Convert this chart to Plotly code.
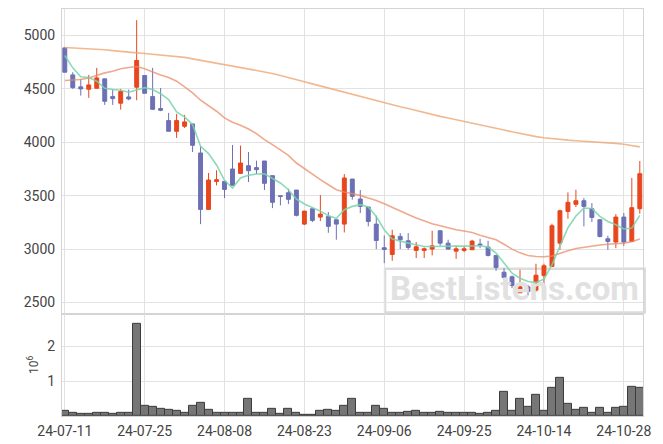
import plotly.graph_objects as go

dates = ["24-07-11","24-07-12","24-07-15","24-07-16","24-07-17","24-07-18","24-07-19","24-07-22","24-07-23","24-07-24",
         "24-07-25","24-07-26","24-07-29","24-07-30","24-07-31","24-08-01","24-08-02","24-08-05","24-08-06","24-08-07",
         "24-08-08","24-08-09","24-08-12","24-08-13","24-08-14","24-08-16","24-08-19","24-08-20","24-08-21","24-08-22",
         "24-08-23","24-08-26","24-08-27","24-08-28","24-08-29","24-08-30","24-09-02","24-09-03","24-09-04","24-09-05",
         "24-09-06","24-09-09","24-09-10","24-09-11","24-09-12","24-09-13","24-09-19","24-09-20","24-09-23","24-09-24",
         "24-09-25","24-09-26","24-09-27","24-09-30","24-10-02","24-10-04","24-10-07","24-10-08","24-10-10","24-10-11",
         "24-10-14","24-10-15","24-10-16","24-10-17","24-10-18","24-10-21","24-10-22","24-10-23","24-10-24","24-10-25",
         "24-10-28","24-10-29","24-10-30"]

open_ = [4884,4631,4519,4497,4506,4594,4428,4366,4425,4516,
         4625,4428,4316,4203,4103,4150,4172,3900,3372,3634,
         3634,3750,3709,3781,3763,3825,3688,3500,3528,3553,
         3234,3378,3300,3306,3275,3234,3656,3469,3394,3234,
         3013,2950,3119,3078,2988,2988,3000,3172,3056,2981,
         2988,2994,3047,3019,2941,2784,2741,2591,2647,2616,
         2753,2838,3056,3353,3419,3453,3378,3275,3097,3066,
         3300,3072,3378]
high = [4890,4656,4594,4631,4697,4594,4494,4500,4494,5144,
        4625,4697,4509,4275,4266,4256,4178,3962,3713,3738,
        3634,3975,3969,3909,3828,3825,3688,3500,3566,3553,
        3356,3378,3506,3347,3275,3703,3656,3553,3394,3313,
        3128,3181,3150,3150,3066,3016,3172,3172,3088,3034,
        3025,3088,3097,3078,2941,2822,2753,2806,2666,2863,
        2863,3238,3369,3531,3556,3478,3431,3275,3125,3328,
        3338,3666,3825]
low = [4656,4500,4437,4416,4500,4350,4350,4306,4394,4394,
       4459,4303,4291,4103,4041,4134,3909,3234,3372,3597,
       3478,3597,3709,3628,3703,3553,3384,3409,3422,3306,
       3225,3253,3263,3153,3088,3156,3463,3338,3213,3000,
       2869,2891,3000,2994,2916,2916,2941,3031,2994,2909,
       2972,2994,3009,2931,2797,2713,2634,2591,2566,2603,
       2656,2838,2994,3284,3394,3213,3253,3109,2994,3009,
       3031,3072,3331]
close = [4656,4512,4500,4537,4603,4384,4409,4475,4406,4766,
         4459,4309,4300,4103,4203,4191,3972,3372,3647,3650,
         3559,3597,3806,3734,3744,3616,3438,3494,3466,3316,
         3356,3269,3328,3213,3234,3666,3494,3400,3259,3081,
         2997,3125,3088,3016,3022,3003,3031,3056,3000,3003,
         3003,3075,3038,2941,2828,2734,2659,2647,2603,2756,
         2844,3219,3359,3438,3453,3400,3297,3119,3072,3300,
         3066,3388,3706]

ma5 = [4813,4697,4613,4606,4572,4506,4494,4488,4469,4494,4512,4494,4455,
       4400,4284,4238,4166,3963,3894,3788,3644,3572,3666,3691,3703,3706,
       3659,3619,3556,3469,3422,3388,3356,3313,3288,3369,3400,3416,3394,
       3306,3181,3094,3072,3056,3041,3025,3025,3028,3028,3028,3028,3031,
       3031,3019,2963,2869,2775,2728,2697,2688,2719,2853,3025,3200,3310,
       3385,3380,3306,3259,3228,3188,3197,3316]
ma20 = [4578,4581,4588,4603,4628,4650,4666,4688,4700,4709,4688,4656,4630,
        4606,4572,4519,4463,4394,4344,4291,4228,4188,4159,4125,4081,4025,
        3978,3931,3878,3806,3753,3697,3650,3603,3556,3534,3519,3503,3478,
        3456,3425,3394,3359,3325,3291,3263,3238,3219,3197,3181,3169,3156,
        3130,3108,3088,3045,3000,2965,2940,2931,2928,2935,2963,2985,3005,
        3018,3028,3038,3045,3050,3056,3070,3094]
ma120 = [4888,4885,4881,4877,4873,4866,4858,4849,4843,4837,4831,4825,4818,
         4813,4808,4795,4781,4768,4755,4740,4727,4713,4700,4687,4673,4662,
         4645,4625,4603,4585,4566,4547,4527,4508,4488,4468,4450,4432,4410,
         4388,4368,4351,4333,4316,4296,4276,4260,4243,4227,4212,4197,4180,
         4165,4145,4130,4115,4098,4082,4066,4053,4043,4034,4027,4020,4015,
         4011,4006,4001,3996,3990,3982,3970,3957]

volume_m = [0.14,0.10,0.05,0.05,0.10,0.08,0.05,0.08,0.08,2.65,
            0.30,0.25,0.20,0.17,0.14,0.09,0.28,0.39,0.17,0.10,
            0.08,0.10,0.08,0.48,0.08,0.10,0.20,0.05,0.20,0.10,
            0.04,0.04,0.14,0.17,0.14,0.30,0.50,0.10,0.08,0.28,
            0.20,0.10,0.10,0.13,0.16,0.10,0.08,0.13,0.08,0.10,
            0.10,0.10,0.05,0.08,0.14,0.68,0.14,0.49,0.26,0.62,
            0.14,0.80,1.09,0.34,0.17,0.22,0.08,0.22,0.10,0.22,
            0.25,0.83,0.80]

price_ticks = [2500, 3000, 3500, 4000, 4500, 5000]
volume_ticks = [1, 2]
tick_step = 10
watermark = "BestListens.com"

idx = list(range(len(dates)))
tickvals = idx[::tick_step]
ticktext = [dates[i] for i in tickvals]

UP = "#e8461c"
DOWN = "#6c70b4"
GRID = "#e2e2e2"
FRAME = "#d4d4d4"
FONT = dict(family="Roboto, sans-serif", size=14, color="#444")

fig = go.Figure()
# watermark text drawn first so that candles sit on top of it
fig.add_trace(go.Scatter(x=[56.3], y=[2600], mode="text", text=[watermark], textposition="middle center",
                         textfont=dict(family="Roboto, sans-serif", size=33, color="#e1e1e1", weight="bold"),
                         xaxis="x", yaxis="y", hoverinfo="skip", showlegend=False))
fig.add_trace(go.Scatter(x=idx, y=ma120, mode="lines", line=dict(color="rgba(238,168,118,0.8)", width=1.6),
                         xaxis="x", yaxis="y", hoverinfo="skip", showlegend=False))
fig.add_trace(go.Scatter(x=idx, y=ma20, mode="lines", line=dict(color="rgba(234,140,104,0.75)", width=1.6),
                         xaxis="x", yaxis="y", hoverinfo="skip", showlegend=False))
fig.add_trace(go.Scatter(x=idx, y=ma5, mode="lines", line=dict(color="rgba(120,212,172,0.85)", width=1.6),
                         xaxis="x", yaxis="y", hoverinfo="skip", showlegend=False))
fig.add_trace(go.Candlestick(x=idx, open=open_, high=high, low=low, close=close,
                             increasing=dict(line=dict(color=UP, width=1), fillcolor=UP),
                             decreasing=dict(line=dict(color=DOWN, width=1), fillcolor=DOWN),
                             whiskerwidth=0, xaxis="x", yaxis="y", showlegend=False))
fig.add_trace(go.Bar(x=idx, y=volume_m, marker=dict(color="#767676", line=dict(color="#3c3c3c", width=1)),
                     xaxis="x2", yaxis="y2", showlegend=False))

vol_dom = 0.251
xcommon = dict(range=[-0.35, 72.4], tickvals=tickvals, ticktext=ticktext, showgrid=True, gridcolor=GRID,
               gridwidth=1, zeroline=False, showline=True, linecolor=FRAME, mirror=True, tickfont=FONT,
               automargin=False)
fig.update_layout(
    width=663, height=444,
    margin=dict(l=62, r=20, t=9, b=28, autoexpand=False),
    paper_bgcolor="white", plot_bgcolor="white",
    showlegend=False, bargap=0,
    xaxis=dict(**xcommon, anchor="y", showticklabels=False, rangeslider=dict(visible=False)),
    xaxis2=dict(**xcommon, anchor="y2", matches="x", ticks="outside", ticklen=2, tickcolor="rgba(0,0,0,0)"),
    yaxis=dict(domain=[vol_dom, 1], range=[2394, 5248], tickvals=price_ticks, showgrid=True, gridcolor=GRID,
               zeroline=False, showline=True, linecolor=FRAME, mirror=True, tickfont=FONT, automargin=False,
               ticks="outside", ticklen=3, tickcolor="rgba(0,0,0,0)"),
    yaxis2=dict(domain=[0, vol_dom], range=[0, 2.93], tickvals=volume_ticks, showgrid=True, gridcolor=GRID,
                zeroline=False, showline=True, linecolor=FRAME, mirror=True, tickfont=FONT, automargin=False,
                ticks="outside", ticklen=3, tickcolor="rgba(0,0,0,0)",
                title=dict(text="10<sup>6</sup>", font=dict(family="Roboto, sans-serif", size=12, color="#444"),
                           standoff=6)),
)

fig.add_shape(type="rect", xref="paper", yref="paper", x0=0.556, x1=1.003, y0=0.254, y1=0.362,
              line=dict(color="#dcdcdc", width=2.5), fillcolor="rgba(0,0,0,0)", layer="below")

fig.write_html("out.html", config=dict(displayModeBar=False),
               post_script="document.body.style.margin='0px';document.body.style.padding='0px';")
